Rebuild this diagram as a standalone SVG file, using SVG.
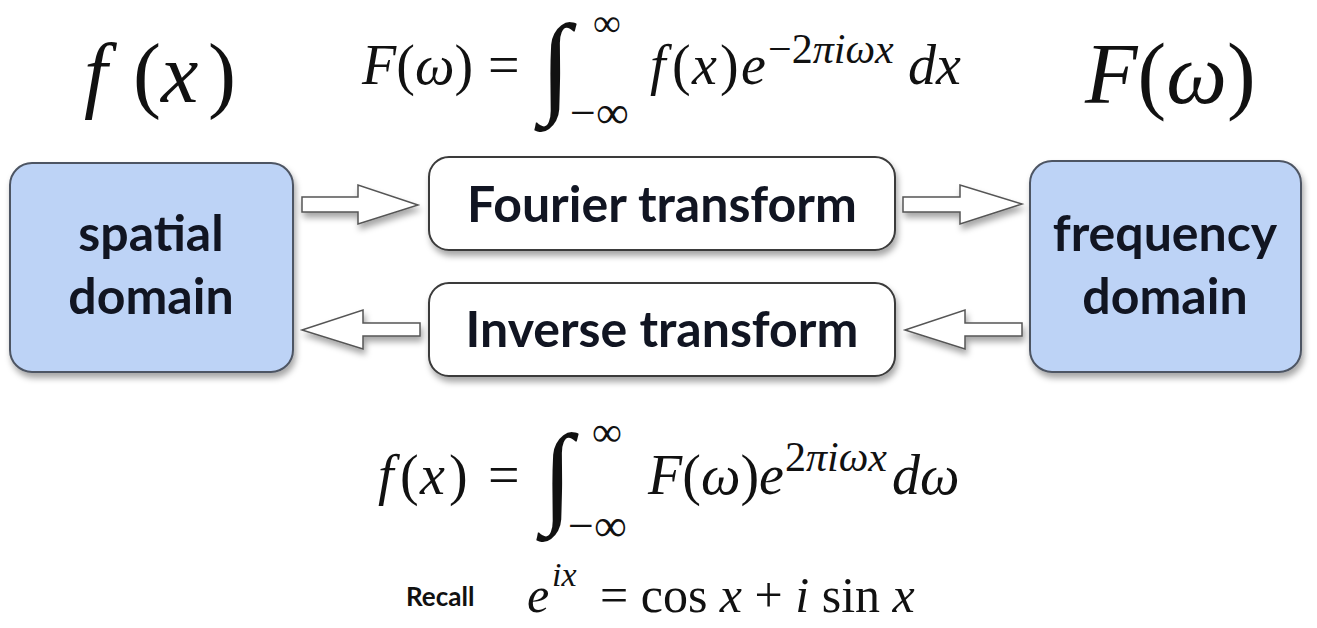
<svg xmlns="http://www.w3.org/2000/svg" width="1317" height="628" viewBox="0 0 1317 628">
<defs>
<filter id="sh" x="-10%" y="-10%" width="130%" height="140%">
<feDropShadow dx="2" dy="5" stdDeviation="3" flood-color="#000" flood-opacity="0.35"/>
</filter>
</defs>
<style>
.dom{fill:#bdd3f6;stroke:#4d5563;stroke-width:2}
.op{fill:#fff;stroke:#3a3a3a;stroke-width:2}
.lbl{font-family:Lato,"Open Sans",sans-serif;font-weight:700;fill:#111522;text-anchor:middle;font-size:50px}
.m{font-family:"Liberation Serif","DejaVu Serif",serif;fill:#111}
.i{font-style:italic}
.arr{fill:#fff;stroke:#555;stroke-width:1.5;stroke-linejoin:miter}
</style>
<rect width="1317" height="628" fill="#fff"/>

<g id="spatial">
<rect class="dom" x="10" y="163" width="283" height="209" rx="22" filter="url(#sh)"/>
<text class="lbl" x="151" y="251">spatial</text>
<text class="lbl" x="151" y="314">domain</text>
</g>

<g id="frequency">
<rect class="dom" x="1030" y="161" width="271" height="211" rx="22" filter="url(#sh)"/>
<text class="lbl" x="1165" y="251">frequency</text>
<text class="lbl" x="1165" y="314">domain</text>
</g>

<g id="fourier">
<rect class="op" x="429" y="157" width="466" height="93" rx="20" filter="url(#sh)"/>
<text class="lbl" x="662" y="222">Fourier transform</text>
</g>

<g id="inverse">
<rect class="op" x="429" y="283" width="466" height="93" rx="20" filter="url(#sh)"/>
<text class="lbl" x="662" y="347">Inverse transform</text>
</g>

<g id="connectors" filter="url(#sh)">
<polygon class="arr" points="302,197 358,197 358,185 418,205 358,224 358,212 302,212"/>
<polygon class="arr" points="903,197 960,197 960,185 1022,204 960,224 960,212 903,212"/>
<polygon class="arr" points="420,323 363,323 363,310 302,330 363,349 363,336 420,336"/>
<polygon class="arr" points="1022,323 965,323 965,310 905,330 965,349 965,336 1022,336"/>
</g>

<g id="math">
<text class="m" y="102" font-size="84"><tspan class="i" x="84">f</tspan><tspan x="133">(</tspan><tspan class="i" x="161">x</tspan><tspan x="208">)</tspan></text>
<text class="m" x="1085" y="103" font-size="86"><tspan class="i">F</tspan>(<tspan class="i">ω</tspan>)</text>

<text class="m" x="362" y="84" font-size="56"><tspan class="i">F</tspan>(<tspan class="i">ω</tspan>)</text>
<text class="m" x="488" y="84" font-size="56">=</text>
<text class="m i" x="0" y="0" font-size="80" transform="translate(540,102) scale(1.4,1.4)">∫</text>
<text class="m" x="593" y="36" font-size="39">∞</text>
<text class="m" x="570" y="128" font-size="46">−∞</text>
<text class="m" y="84" font-size="56"><tspan class="i" x="650">f</tspan><tspan x="672">(</tspan><tspan class="i" x="692">x</tspan><tspan x="720">)</tspan><tspan class="i" x="741">e</tspan></text>
<text class="m" x="768" y="63" font-size="42">−2<tspan class="i">πiωx</tspan></text>
<text class="m i" x="908" y="84" font-size="56">dx</text>

<text class="m" y="494" font-size="56"><tspan class="i" x="378">f</tspan><tspan x="400">(</tspan><tspan class="i" x="420">x</tspan><tspan x="449">)</tspan></text>
<text class="m" x="488" y="494" font-size="56">=</text>
<text class="m i" x="0" y="0" font-size="80" transform="translate(542,512) scale(1.4,1.4)">∫</text>
<text class="m" x="592" y="446" font-size="42">∞</text>
<text class="m" x="568" y="541" font-size="46">−∞</text>
<text class="m" x="648" y="494" font-size="56"><tspan class="i">F</tspan>(<tspan class="i">ω</tspan>)<tspan class="i">e</tspan></text>
<text class="m" x="785" y="471" font-size="42">2<tspan class="i">πiωx</tspan></text>
<text class="m i" x="892" y="494" font-size="56">dω</text>

<text x="406" y="606" font-family="Lato,'Open Sans',sans-serif" font-weight="700" font-size="26" fill="#111">Recall</text>
<text class="m i" x="527" y="612" font-size="50">e</text>
<text class="m i" x="552" y="586" font-size="34">ix</text>
<text class="m" x="600" y="612" font-size="50">= cos <tspan class="i">x</tspan> + <tspan class="i">i</tspan> sin <tspan class="i">x</tspan></text>
</g>
</svg>
